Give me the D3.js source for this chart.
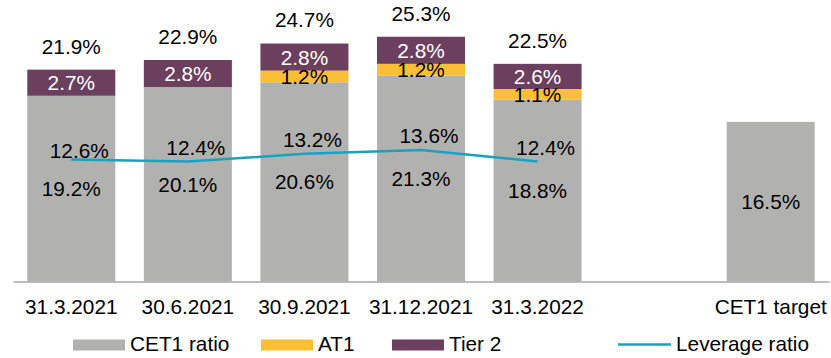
<!DOCTYPE html>
<html>
<head>
<meta charset="utf-8">
<script src="https://cdn.jsdelivr.net/npm/d3@7"></script>
<style>
  html, body { margin: 0; padding: 0; background: #fff; }
  svg { display: block; font-family: "Liberation Sans", Arial, sans-serif; }
</style>
</head>
<body>
<svg id="chart" width="831" height="358"></svg>
<script>
// Capital ratios by reporting date, plus the CET1 target
const categories = ["31.3.2021", "30.6.2021", "30.9.2021", "31.12.2021", "31.3.2022", " ", "CET1 target"];
const cet1 = [19.2, 20.1, 20.6, 21.3, 18.8, null, 16.5];
const at1 = [0, 0, 1.2, 1.2, 1.1, null, null];
const tier2 = [2.7, 2.8, 2.8, 2.8, 2.6, null, null];
const totals = [21.9, 22.9, 24.7, 25.3, 22.5, null, null];
const leverage = [12.6, 12.4, 13.2, 13.6, 12.4];
const seriesNames = ["CET1 ratio", "AT1", "Tier 2", "Leverage ratio"];

const colors = { cet1: "#b1b2af", at1: "#fbbf35", tier2: "#6b3f5d", lev: "#1aa1c1" };
const fontSize = 20.8;

const svg = d3.select("#chart");
const baseY = 281.5;

const x = d3.scaleBand()
  .domain(categories)
  .range([13, 829])
  .paddingInner(0.245)
  .paddingOuter(0.1225);

const y = d3.scaleLinear()
  .domain([0, 29.1])
  .range([baseY, 0]);

// Build stacked segments
const segs = [];
categories.forEach((c, i) => {
  if (cet1[i] == null) return;
  let acc = 0;
  [["cet1", cet1[i]], ["at1", at1[i]], ["tier2", tier2[i]]].forEach(([k, v]) => {
    if (v == null || v === 0) return;
    segs.push({ cat: c, key: k, y0: acc, y1: acc + v, v });
    acc += v;
  });
});

const g = svg.append("g");

g.selectAll("rect.seg")
  .data(segs)
  .join("rect")
  .attr("class", "seg")
  .attr("x", d => x(d.cat))
  .attr("width", x.bandwidth())
  .attr("y", d => y(d.y1))
  .attr("height", d => y(d.y0) - y(d.y1))
  .attr("fill", d => colors[d.key]);

// Axis baseline
const xAxis = d3.axisBottom(x).tickSize(0).tickPadding(0);
const axisG = svg.append("g")
  .attr("transform", `translate(0,${baseY})`)
  .call(xAxis);
axisG.select(".domain").attr("stroke", "#a8a5a7").attr("stroke-width", 1.5);
axisG.selectAll(".tick text")
  .attr("font-size", fontSize)
  .attr("fill", "#000")
  .attr("font-family", "Liberation Sans, Arial, sans-serif")
  .attr("dy", 0)
  .attr("y", 32.5);

// Segment value labels
g.selectAll("text.seglab")
  .data(segs)
  .join("text")
  .attr("class", "seglab")
  .attr("x", d => x(d.cat) + x.bandwidth() / 2)
  .attr("y", d => (y(d.y0) + y(d.y1)) / 2)
  .attr("dy", "0.36em")
  .attr("text-anchor", "middle")
  .attr("font-size", fontSize)
  .attr("fill", d => d.key === "tier2" ? "#fff" : "#000")
  .text(d => d.v.toFixed(1) + "%");

// Total labels above bars
const totalData = categories.map((c, i) => ({ cat: c, t: totals[i] })).filter(d => d.t != null);
g.selectAll("text.total")
  .data(totalData)
  .join("text")
  .attr("class", "total")
  .attr("x", d => x(d.cat) + x.bandwidth() / 2)
  .attr("y", d => y(d.t) - 16)
  .attr("text-anchor", "middle")
  .attr("font-size", fontSize)
  .attr("fill", "#000")
  .text(d => d.t.toFixed(1) + "%");

// Leverage ratio line
const levData = leverage.map((v, i) => ({ cat: categories[i], v }));
const line = d3.line()
  .x(d => x(d.cat) + x.bandwidth() / 2)
  .y(d => y(d.v));
g.append("path")
  .datum(levData)
  .attr("d", line)
  .attr("fill", "none")
  .attr("stroke", colors.lev)
  .attr("stroke-width", 2.5);

g.selectAll("text.lev")
  .data(levData)
  .join("text")
  .attr("class", "lev")
  .attr("x", d => x(d.cat) + x.bandwidth() / 2 + 8)
  .attr("y", (d, i) => y(d.v) - (i === 0 ? 1.5 : 7))
  .attr("text-anchor", "middle")
  .attr("font-size", fontSize)
  .attr("fill", "#000")
  .text(d => d.v.toFixed(1) + "%");

// Legend
const legend = svg.append("g");
const legendItems = [
  { name: seriesNames[0], color: colors.cet1, type: "rect", x0: 73, tx: 130 },
  { name: seriesNames[1], color: colors.at1, type: "rect", x0: 261, tx: 318 },
  { name: seriesNames[2], color: colors.tier2, type: "rect", x0: 392, tx: 449 },
  { name: seriesNames[3], color: colors.lev, type: "line", x0: 618, tx: 676 }
];
legendItems.forEach(it => {
  if (it.type === "rect") {
    legend.append("rect")
      .attr("x", it.x0).attr("y", 339.5)
      .attr("width", 52).attr("height", 11)
      .attr("fill", it.color);
  } else {
    legend.append("line")
      .attr("x1", it.x0).attr("x2", it.x0 + 53)
      .attr("y1", 344.5).attr("y2", 344.5)
      .attr("stroke", it.color).attr("stroke-width", 2.5);
  }
  legend.append("text")
    .attr("x", it.tx).attr("y", 350.5)
    .attr("font-size", fontSize)
    .attr("fill", "#000")
    .text(it.name);
});
</script>
</body>
</html>
